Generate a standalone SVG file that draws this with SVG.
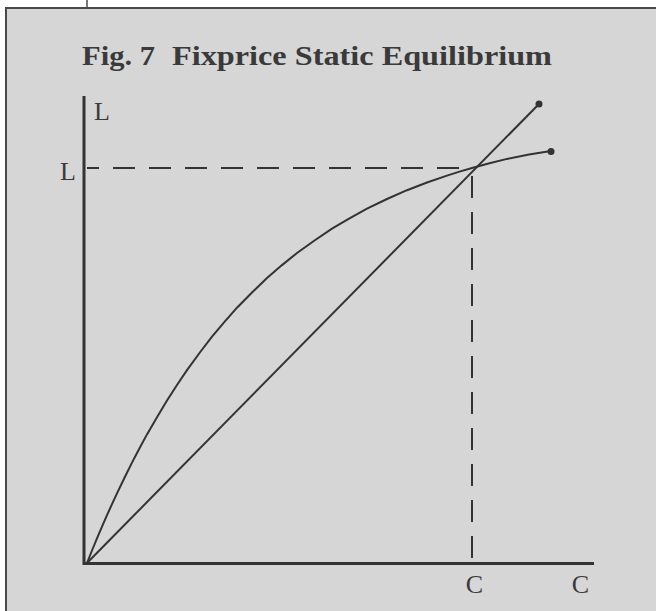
<svg xmlns="http://www.w3.org/2000/svg" width="656" height="611" viewBox="0 0 656 611">
  <style>
    .lbl { font-family: "Liberation Serif", "Times New Roman", serif; font-size: 26px; fill: #3a3a3a; }
    .title { font-family: "Liberation Serif", "Times New Roman", serif; font-size: 28px; font-weight: bold; fill: #3a3a3a; }
    .axis { stroke: #333333; stroke-width: 3; fill: none; }
    .curve { stroke: #333333; stroke-width: 2; fill: none; }
    .dash { stroke: #333333; stroke-width: 2; fill: none; stroke-dasharray: 22 14; }
  </style>
  <rect x="0" y="0" width="656" height="611" fill="#ffffff"/>
  <rect x="6" y="8" width="652" height="605" fill="#d6d6d6" stroke="#4a4a4a" stroke-width="2"/>
  <line x1="87" y1="0" x2="87" y2="8" stroke="#4a4a4a" stroke-width="1.5"/>

  <g id="title">
    <text class="title" x="82" y="65" textLength="73" lengthAdjust="spacingAndGlyphs">Fig. 7</text>
    <text class="title" x="172" y="65" textLength="380" lengthAdjust="spacingAndGlyphs">Fixprice Static Equilibrium</text>
  </g>

  <g id="axes">
    <line class="axis" x1="84" y1="96" x2="84" y2="565"/>
    <line class="axis" x1="83" y1="563.5" x2="594" y2="563.5"/>
    <text class="lbl" x="94" y="120">L</text>
    <text class="lbl" x="60" y="180">L</text>
    <text class="lbl" x="474.5" y="593" text-anchor="middle">C</text>
    <text class="lbl" x="580.5" y="593" text-anchor="middle">C</text>
  </g>

  <g id="connectors">
    <line class="dash" x1="87" y1="168" x2="472" y2="168" stroke-dashoffset="10"/>
    <line class="dash" x1="472" y1="168" x2="472" y2="563" stroke-dashoffset="-8"/>
    <line id="line45" class="curve" x1="87" y1="563" x2="539" y2="104"/>
    <path id="curve" class="curve" d="M87,563 L92,550.5 L97,538.4 L102,526.6 L107,515.2 L112,504.1 L117,493.3 L124.5,477.8 L132,462.6 L139.5,448.3 L147,434.4 L157,417.2 L167,400.5 L177,385 L187,370.1 L199.5,353 L212,336.7 L224.5,321.8 L237,307.7 L252,292.5 L267,278 L282,265.1 L297,253 L314.5,240.5 L332,228.6 L349.5,218.3 L367,208.6 L387,199 L407,190.2 L427,182.5 L447,175.6 L459.5,171.6 L472,168 L489.5,163.2 L507,158.9 L529,154.6 L551,151"/>
    <circle cx="539" cy="104" r="3.5" fill="#333333"/>
    <circle cx="551" cy="151.5" r="3.5" fill="#333333"/>
  </g>
</svg>
